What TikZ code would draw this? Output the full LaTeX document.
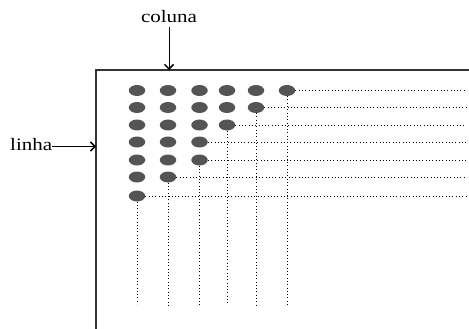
\documentclass[tikz,border=0pt]{standalone}
\usepackage{fontspec}
\setmainfont{Liberation Serif}
\usetikzlibrary{arrows.meta,shapes.geometric}
\begin{document}
\begin{tikzpicture}[x=1pt,y=-1pt,
  dot/.style={ellipse,fill=black!67,minimum width=16.5pt,minimum height=11pt,inner sep=0pt},
  guide/.style={line width=0.8pt,dash pattern=on 0.9pt off 2.4pt},
  frame/.style={line width=1.4pt,draw=black!80},
  lbl/.style={font=\fontsize{17.5}{17.5}\selectfont,inner sep=0pt,xscale=1.2,transform shape},
  pointer/.style={line width=0.9pt,-{Straight Barb[length=4.5pt,width=9pt,line width=1.5pt]}}]
\useasboundingbox (0,0) rectangle (469,329);
% frame
\draw[frame] (96,329) -- (96,70) -- (469,70);
% dots
\foreach \r/\y/\n in {1/90.5/6,2/107.5/5,3/125/4,4/142/3,5/160/3,6/177/2,7/196/1}{
  \foreach \c/\x in {1/137,2/168,3/199.5,4/227,5/256,6/287}{
    \ifnum\c>\n\relax\else
      \node[dot] (d\r\c) at (\x,\y) {};
    \fi
  }
}
% horizontal guides
\foreach \s/\y in {16/90.5,25/107.5,34/125,43/142,53/160,62/177,71/196}{
  \coordinate (h\s) at (466,\y);
}
\draw[guide] (d16.east) -- (h16);
\draw[guide] (d25.east) -- (h25);
\draw[guide] (d34.east) -- (h34);
\draw[guide] (d43.east) -- (h43);
\draw[guide] (d53.east) -- (h53);
\draw[guide] (d62.east) -- (h62);
\draw[guide] (d71.east) -- (h71);
% vertical guides
\coordinate (v1) at (137,304);
\coordinate (v2) at (168,306);
\coordinate (v3) at (199.5,306);
\coordinate (v4) at (227,305);
\coordinate (v5) at (256,305);
\coordinate (v6) at (287,305);
\draw[guide] (d71.south) -- (v1);
\draw[guide] (d62.south) -- (v2);
\draw[guide] (d53.south) -- (v3);
\draw[guide] (d34.south) -- (v4);
\draw[guide] (d25.south) -- (v5);
\draw[guide] (d16.south) -- (v6);
% labels
\node[lbl,anchor=base] (col) at (169,23) {coluna};
\node[lbl,anchor=base west] (lin) at (10,150.5) {linha};
\coordinate (ct) at (169,70);
\coordinate (lt) at (96,146.5);
\draw[pointer] ([yshift=-4pt]col.south) -- (ct);
\draw[pointer] (lin.east |- lt) -- (lt);
\end{tikzpicture}
\end{document}
